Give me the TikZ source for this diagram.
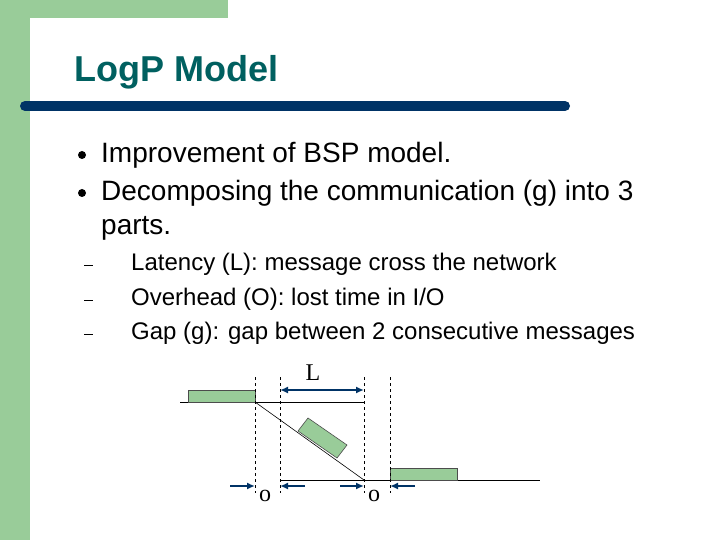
\documentclass[tikz,border=0pt]{standalone}
\usepackage{fontspec}
\setmainfont{Liberation Sans}
\newfontfamily\serifont{Liberation Serif}
\usetikzlibrary{arrows.meta}
\definecolor{sgreen}{RGB}{153,204,153}
\definecolor{steal}{RGB}{0,96,96}
\definecolor{sbar}{RGB}{0,51,102}
\definecolor{boxg}{RGB}{153,204,153}
\begin{document}
\begin{tikzpicture}[x=1pt,y=-1pt,
  txt/.style={anchor=west,inner sep=0pt,font=\fontsize{28}{30}\selectfont},
  sub/.style={anchor=west,inner sep=0pt,font=\fontsize{24}{26}\selectfont},
  msg/.style={draw=black!70,fill=boxg,line width=0.6pt},
  dline/.style={dashed,line width=0.6pt},
  arr/.style={-{Latex[length=8pt,width=7pt]},line width=2.2pt,color=sbar},
  lab/.style={font=\serifont\fontsize{24}{26}\selectfont,inner sep=0pt}]
\useasboundingbox (0,0) rectangle (720,540);
\fill[sgreen] (0,0) rectangle (228,18);
\fill[sgreen] (0,0) rectangle (30,540);
\fill[white] (30,540) -- (30,48) arc[start angle=180,end angle=90,radius=30] -- (228,18) -- (720,18) -- (720,540) -- cycle;
\node[anchor=west,inner sep=0pt,text=steal,font=\bfseries\fontsize{36}{38}\selectfont] (title) at (74,72) {LogP Model};
\draw[sbar,line width=10pt,line cap=round] (25,106) -- (565,106);
\fill (82,155) circle (4);
\fill (82,193) circle (4);
\node[txt] (t1) at (101,155) {Improvement of BSP model.};
\node[txt] (t2) at (101,193) {Decomposing the communication (g) into 3};
\node[txt] (t3) at (101,228) {parts.};
\foreach \y in {265,300,334} \draw[line width=1pt] (84,\y) -- (93,\y);
\node[sub] (s1) at (131,264) {Latency (L): message cross the network};
\node[sub] (s2) at (131,299) {Overhead (O): lost time in I/O};
\node[sub] (s3) at (131,333) {Gap (g): gap between 2 consecutive messages};
% diagram
\coordinate (a) at (255,402);
\coordinate (b) at (364,480);
\draw[line width=0.6pt] (180,402) -- (364,402);
\draw[line width=0.6pt] (280,480) -- (540,480);
\draw[line width=0.6pt] (a) -- (b);
\draw[msg] (188,390) rectangle (255,402);
\draw[msg] (390,468) rectangle (457,480);
\draw[msg] (298,431) -- (308,418) -- (347,445) -- (337,458) -- cycle;
\foreach \x in {255,280,364,390} \draw[dline] (\x,377) -- (\x,493);
\draw[sbar,line width=2.2pt,{Latex[length=8pt,width=7pt]}-{Latex[length=8pt,width=7pt]}] (280,390) -- (364,390);
\node[lab] (L) at (313,373) {L};
\draw[arr] (230,486) -- (255,486);
\draw[arr] (305,486) -- (280,486);
\draw[arr] (340,486) -- (364,486);
\draw[arr] (415,486) -- (390,486);
\node[lab] (o1) at (265,496) {o};
\node[lab] (o2) at (374,496) {o};
\end{tikzpicture}
\end{document}
